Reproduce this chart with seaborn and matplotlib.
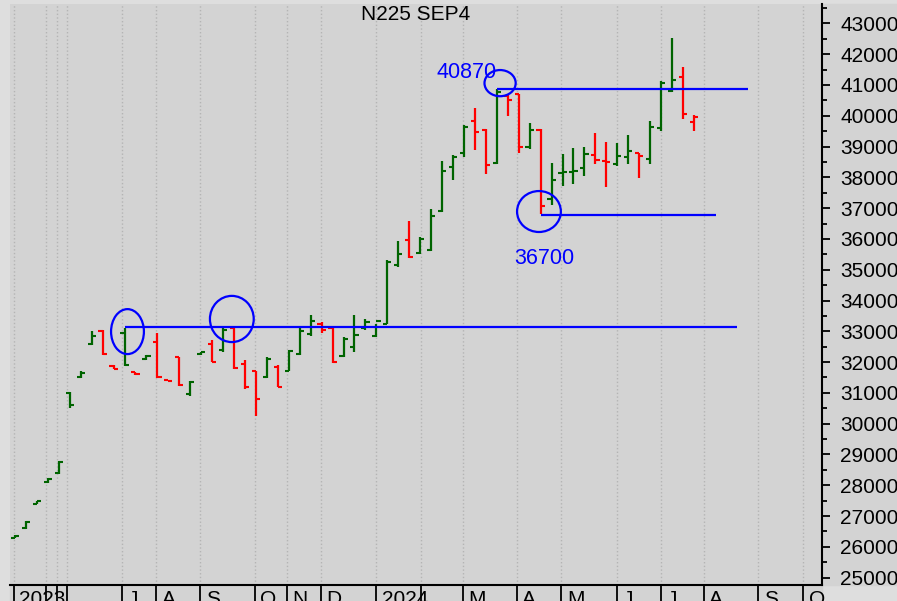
import numpy as np
import pandas as pd
import matplotlib
matplotlib.use("Agg")
import matplotlib.pyplot as plt
from matplotlib.patches import Ellipse, Rectangle
from matplotlib.ticker import MultipleLocator
import matplotlib.transforms as mtransforms
import seaborn as sns

# weekly OHLC bars, N225 Sep 2024 futures
opens = [26300, 26600, 27400, 28100, 28400, 30980, 31500, 32600, 33000, 31880,
         32950, 31680, 32100, 32650, 31410, 32150, 30950, 32250, 32600, 32400,
         33100, 31950, 31700, 31500, 31850, 31720, 32250, 32900, 33250, 33100,
         32200, 32500, 33100, 32850, 33250, 35150, 35950, 35550, 35650, 36900,
         38340, 38780, 39840, 39540, 38470, 40640, 40700, 38970, 39540, 37300,
         38150, 38180, 38290, 38720, 38530, 38420, 38670, 38790, 38580, 39610,
         40810, 41270, 39790]
highs = [26380, 26850, 27500, 28240, 28800, 31040, 31720, 33020, 33040, 31905,
         33120, 31690, 32230, 32940, 31420, 32175, 31400, 32340, 32720, 33100,
         33120, 32070, 31720, 32175, 31905, 32400, 33150, 33530, 33290, 33120,
         32830, 33530, 33390, 33240, 35320, 35940, 36580, 36050, 36960, 38530,
         38720, 39700, 40260, 39570, 40880, 40700, 40710, 39770, 39570, 38470,
         38760, 38940, 38990, 39450, 39160, 39100, 39370, 38800, 39840, 41130,
         42510, 41570, 40020]
lows = [26280, 26570, 27380, 28070, 28370, 30500, 31470, 32560, 32230, 31775,
        31870, 31580, 32070, 31480, 31370, 31230, 30900, 32230, 31990, 32340,
        31770, 31120, 30260, 31490, 31180, 31710, 32230, 32850, 32950, 31980,
        32150, 32320, 33040, 32800, 33240, 35100, 35390, 35510, 35620, 36880,
        37910, 38670, 38890, 38100, 38430, 39990, 38780, 38910, 36800, 37100,
        37730, 37800, 38040, 38430, 37700, 38380, 38420, 37970, 38430, 39510,
        40780, 39880, 39510]
closes = [26340, 26800, 27480, 28200, 28750, 30600, 31650, 32850, 32250, 31790,
          31900, 31600, 32200, 31500, 31380, 31250, 31350, 32320, 32000, 33050,
          31800, 31200, 30800, 32100, 31200, 32350, 33000, 33350, 33050, 32000,
          32750, 32880, 33300, 33320, 35250, 35510, 35400, 36000, 36740, 38200,
          38650, 39650, 39480, 38400, 40780, 40500, 39000, 39540, 37070, 37930,
          38180, 38210, 38750, 38560, 38500, 38690, 38860, 38690, 39640, 41050,
          41160, 40050, 39970]

# month boundaries (in bar units) and their labels
month_pos = [-0.1, 2.83, 3.84, 4.75, 9.77, 12.88, 16.9, 21.9, 24.8, 27.9,
             33.0, 37.1, 40.9, 45.8, 49.9, 55.0, 59.0, 62.9, 67.9, 72.0]
month_labels = ["2023", "", "", "", "J", "A", "S", "O", "N", "D",
                "2024", "", "M", "A", "M", "J", "J", "A", "S", "O"]

# drawn support / resistance levels
level_values = [33150, 40870, 36780]
level_start = [10, 44, 48]
level_end = [65.9, 66.9, 64.0]
level_text = ["", "40870", "36700"]
text_pos = [(None, None), (38.5, 41400), (45.6, 35350)]

# circles: centre bar, centre value, width (bars), height (points)
circle_x = [10.27, 19.8, 44.3, 47.85]
circle_y = [32990, 33400, 41060, 36890]
circle_w = [3.0, 4.0, 2.85, 4.0]
circle_h = [1460, 1500, 850, 1330]

df = pd.DataFrame({"open": opens, "high": highs, "low": lows, "close": closes})
df["bar"] = np.arange(len(df))
prev_close = df["close"].shift(1).fillna(df["open"])
df["dir"] = np.where(df["close"] >= prev_close, "up", "down")

sns.set_theme(style="ticks")
plt.rcParams["font.family"] = ["Liberation Sans", "DejaVu Sans"]

grey = "#d3d3d3"
fig = plt.figure(figsize=(8.97, 6.01), dpi=100, facecolor="#dedede")
ax = fig.add_axes([10 / 897, 16 / 601, 812 / 897, 581 / 601])
ax.set_facecolor(grey)
# label bands keep the plot grey (drawn beneath the axes)
fig.patches.append(Rectangle((822 / 897, 16 / 601), 75 / 897, 581 / 601,
                             transform=fig.transFigure, color=grey, zorder=-5))
fig.patches.append(Rectangle((10 / 897, 0), 812 / 897, 16 / 601,
                             transform=fig.transFigure, color=grey, zorder=-5))

palette = {"up": "#006400", "down": "#ff0000"}
bar_cols = df["dir"].map(palette)

# high-low range
ax.vlines(df["bar"], df["low"], df["high"], colors=bar_cols, linewidth=1.6, zorder=3)
# open tick on the left, close tick on the right
sns.scatterplot(data=df, x="bar", y="open", hue="dir", palette=palette, marker=0,
                s=9, linewidth=1.5, legend=False, ax=ax, zorder=3)
sns.scatterplot(data=df, x="bar", y="close", hue="dir", palette=palette, marker=1,
                s=9, linewidth=1.5, legend=False, ax=ax, zorder=3)

for v, x0, x1 in zip(level_values, level_start, level_end):
    ax.hlines(v, x0, x1, colors="#0000ff", linewidth=1.6, zorder=4)
for (tx, ty), t in zip(text_pos, level_text):
    if t:
        ax.text(tx, ty, t, color="#0000ff", fontsize=15.5, va="center", ha="left")
for cx, cy, w, h in zip(circle_x, circle_y, circle_w, circle_h):
    ax.add_patch(Ellipse((cx, cy), w, h, fill=False, edgecolor="#0000ff",
                         linewidth=1.6, zorder=4))

ax.set_xlim(-0.46, 73.7)
ax.set_ylim(24760, 43630)

# right-hand price axis
ax.yaxis.tick_right()
ax.yaxis.set_major_locator(MultipleLocator(1000))
ax.yaxis.set_minor_locator(MultipleLocator(500))
ax.tick_params(axis="y", which="major", length=6, width=1.3, pad=7,
               labelsize=15, colors="black")
ax.tick_params(axis="y", which="minor", length=3.5, width=1.3, colors="black")

# month ticks along the bottom
ax.set_xticks(month_pos, month_labels)
ax.tick_params(axis="x", which="major", length=12, width=1.3, pad=-8.4,
               labelsize=15, direction="out", colors="black")
offset = mtransforms.ScaledTranslation(4 / 72, 0, fig.dpi_scale_trans)
for lab in ax.get_xticklabels():
    lab.set_ha("left")
    lab.set_transform(lab.get_transform() + offset)

ax.grid(axis="x", linestyle=":", color="#b4b4b4", linewidth=1)
ax.grid(axis="y", visible=False)
ax.set_xlabel("")
ax.set_ylabel("")

for side in ["top", "left"]:
    ax.spines[side].set_visible(False)
for side in ["bottom", "right"]:
    ax.spines[side].set_color("black")
    ax.spines[side].set_linewidth(1.5)

ax.text(0.5, 0.982, "N225 SEP4", transform=ax.transAxes, ha="center",
        va="center", fontsize=15, color="black")

fig.savefig("out.png", dpi=100, facecolor=fig.get_facecolor())
